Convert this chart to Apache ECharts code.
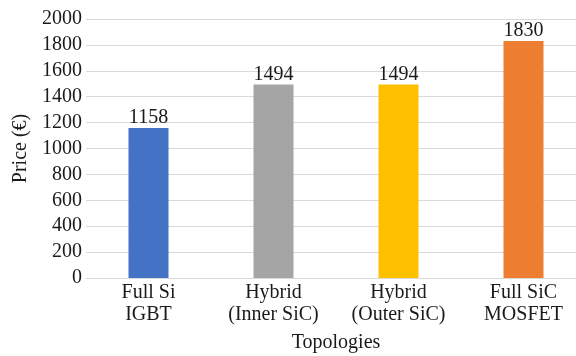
<!DOCTYPE html>
<html>
<head>
<meta charset="utf-8">
<script src="https://cdn.jsdelivr.net/npm/echarts@6/dist/echarts.min.js"></script>
<style>
  html, body { margin: 0; padding: 0; background: #fff; }
  #chart { width: 576px; height: 356px; }
</style>
</head>
<body>
<div id="chart"></div>
<script>
// Topology names and their prices in euros
const categories = ['Full Si\nIGBT', 'Hybrid\n(Inner SiC)', 'Hybrid\n(Outer SiC)', 'Full SiC\nMOSFET'];
const prices = [1158, 1494, 1494, 1830];
const barColors = ['#4472C4', '#A5A5A5', '#FFC000', '#ED7D31'];
const yTicks = { min: 0, max: 2000, interval: 200 };

const font = 'Liberation Serif, Times New Roman, serif';
const textColor = '#1a1a1a';

const chart = echarts.init(document.getElementById('chart'), null, { renderer: 'canvas' });
chart.setOption({
  animation: false,
  backgroundColor: '#ffffff',
  grid: { left: 86, right: -10, top: 19, bottom: 78, outerBoundsMode: 'none', containLabel: false },
  xAxis: {
    type: 'category',
    data: categories,
    name: 'Topologies',
    nameLocation: 'middle',
    nameGap: 55,
    nameTextStyle: { fontFamily: font, fontSize: 20, color: textColor },
    axisLine: { show: true, lineStyle: { color: '#d9d9d9', width: 1 } },
    axisTick: { show: false },
    axisLabel: { fontFamily: font, fontSize: 20, color: textColor, lineHeight: 22, margin: 4, interval: 0 }
  },
  yAxis: {
    type: 'value',
    min: yTicks.min,
    max: yTicks.max,
    interval: yTicks.interval,
    name: 'Price (€)',
    nameLocation: 'middle',
    nameGap: 54,
    nameRotate: 90,
    nameTextStyle: { fontFamily: font, fontSize: 20, color: textColor },
    axisLine: { show: false },
    axisTick: { show: false },
    axisLabel: { fontFamily: font, fontSize: 20, color: textColor, margin: 4, formatter: v => String(v) },
    splitLine: { lineStyle: { color: '#d9d9d9', width: 1 } }
  },
  series: [{
    type: 'bar',
    data: prices.map((v, i) => ({ value: v, itemStyle: { color: barColors[i] } })),
    barWidth: '32%',
    label: {
      show: true,
      position: 'top',
      distance: 0,
      fontFamily: font,
      fontSize: 20,
      color: textColor
    }
  }]
});
</script>
</body>
</html>
